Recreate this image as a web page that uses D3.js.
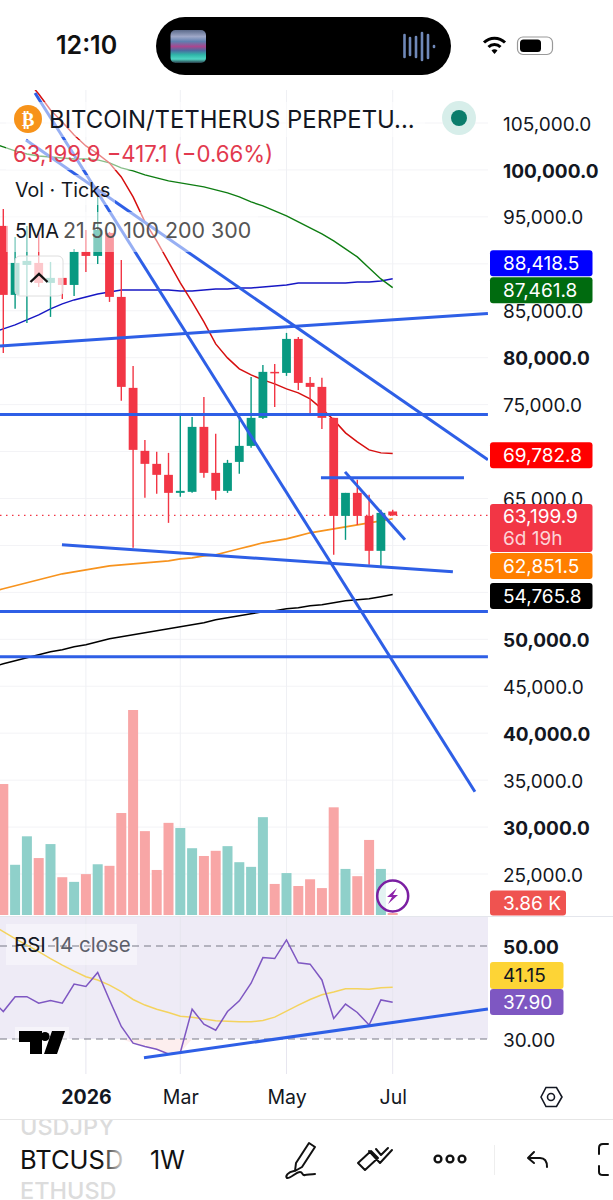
<!DOCTYPE html>
<html><head><meta charset="utf-8">
<script src="https://cdnjs.cloudflare.com/ajax/libs/d3/7.8.5/d3.min.js"></script>
<style>html,body{margin:0;padding:0;background:#fff}svg{display:block}text{font-family:Inter,"Noto Sans",sans-serif}</style>
</head><body><div id="c"></div>
<script>
// ---------- data ----------
const firstWeek = "2025-11-17";
const opens  = [94040,86690,89880,90095,87965,88500,87750,91270,90840,93290,86475,76785,70075,68690,67520,65600,65710,72630,67730,65815,68900,70605,73590,78490,78380,82000,77315,76890,73590,63150,65600,63150,59425,63617];
const highs  = [95850,92860,94040,93290,90200,88500,91590,93610,97125,93400,90415,79125,71245,69970,69860,73800,73695,75825,71885,69115,73695,77955,79230,79340,82640,82215,77955,77850,73590,65600,66985,65390,63790,63790];
const lows   = [80510,85200,83705,87540,84345,86260,86580,89140,89990,85940,75400,59745,65070,65495,62405,65175,65600,67200,64855,65600,67625,70395,73480,74760,78060,76570,74120,72415,59000,60595,62190,57935,57825,63150];
const closes = [86690,90095,90310,87965,88500,87750,91270,90840,93610,86475,76890,70180,68690,67520,65600,65815,72630,67730,65815,68795,70605,73590,78490,78380,82000,77315,76890,73590,63150,65600,63150,59425,63470,63199.9];
const volumesK = [253,97,152,110,137,73,64,79,98,95,197,396,162,87,178,168,129,114,124,133,102,93,189,60,81,56,69,52,208,89,75,145,89,3.86];
// moving averages start one week before the first visible candle
const ma21  = [null,null,null,109585,108094,106390,105112,103728,102556,101704,100746,99255,97125,94462,92439,90202,87965,85942,83812,81469,79978,78807,78168,77635,77209,76677,76251,75612,74547,73375,71991,71032,70180,69860,69782.8];
const ma50  = [102875,102450,102024,101704,101491,101385,101278,101172,101172,101065,100746,100213,99894,99468,99148,98829,98616,98403,98190,97870,97551,97125,96592,96166,95634,95101,94462,93823,93184,92439,91587,90735,89563,88392,87461.8];
const ma100 = [82640,83067,83493,84025,84558,85197,85729,86155,86475,86794,87007,87220,87220,87220,87220,87220,87114,87114,87220,87327,87327,87433,87433,87540,87646,87753,87965,87965,87965,87965,87965,88072,88072,88179,88418.5];
const ma200 = [55060,55377,55696,56016,56335,56655,56974,57187,57400,57613,57826,57933,58039,58146,58252,58359,58572,58678,58891,58998,59317,59637,59956,60276,60489,60702,61021,61341,61554,61767,61980,62193,62407,62620,62851.5];
const ma300 = [47070,47389,47709,48028,48348,48667,48880,49200,49413,49732,50052,50266,50479,50692,50905,51118,51331,51544,51757,52075,52288,52501,52714,52927,53034,53247,53353,53566,53673,53887,54100,54205,54312,54525,54765.8];
const rsi   = [38.4,35.9,39.1,39.1,37.7,38.3,37.7,41.8,41.3,44.3,38.4,32.7,29.1,28.4,27.8,26.8,27.1,36.4,33.2,31.9,35.9,38.2,42.0,47.5,47.3,51.3,46.4,46.1,42.7,34.4,37.5,35.7,33.0,38.4,37.9];
const rsiMa = [54.6,53.1,51.6,50.2,48.8,47.3,45.9,44.6,43.4,42.7,41.6,40.2,38.5,37.3,36.4,35.7,34.9,34.7,34.3,33.9,33.8,33.7,33.7,34.0,34.7,36.0,37.3,38.5,39.5,40.1,40.8,40.8,40.7,41.0,41.15];
// hand-drawn trend lines: [week number, price] pairs
const priceTrends = [
  [[2.69,108200],[39.97,33757]],
  [[1.92,103195],[41.07,69115]],
  [[-0.28,81256],[41.07,84717]],
  [[-0.28,73960],[41.07,73960]],
  [[26.92,67198],[39.04,67198]],
  [[28.96,67837],[34.04,60595]],
  [[4.97,60063],[38.1,57187]],
  [[-0.28,52959],[41.07,52959]],
  [[-0.28,48134],[41.07,48134]]
];
const rsiTrend = [[11.92,25.98],[41.07,36.45]];
const gridPrices = d3.range(25000,105001,5000);
const priceLabels = [25000,30000,35000,40000,45000,50000,65000,75000,80000,85000,95000,100000,105000];
const boldPrices = [100000,80000,50000,40000,30000];
const rsiTicks = [50,30];
const timeTicks = ["2026-01-05","2026-03-02","2026-05-04","2026-07-06"];
const timeLabels = {"2026-01-05":"2026","2026-03-02":"Mar","2026-05-04":"May","2026-07-06":"Jul"};
// tag text and the axis price at which the (collision-shifted) tag sits
const priceTags = [
  {t:"88,418.5",bg:"#0000ff",at:90069},
  {t:"87,461.8",bg:"#006b0f",at:87190},
  {t:"69,782.8",bg:"#ff0000",at:69620},
  {t:"62,851.5",bg:"#ff7f00",at:57800},
  {t:"54,765.8",bg:"#000000",at:54606}
];

// ---------- layout ----------
const W=613,H=1200,paneR=488;
const svg=d3.select("#c").append("svg").attr("width",W).attr("height",H);
const defs=svg.append("defs");
defs.append("clipPath").attr("id","main").append("rect").attr("x",0).attr("y",90).attr("width",paneR).attr("height",825);
const x0=new Date(firstWeek+"T00:00:00Z");
const weekDate=i=>new Date(+x0+i*7*864e5);
const x=d3.scaleUtc().domain([x0,weekDate(33)]).range([3.3,392.7]);
const xi=i=>x(weekDate(i));
const y=d3.scaleLinear().domain([25000,105000]).range([874,123]);
const yv=d3.scaleLinear().domain([0,396]).range([915,710]);
const yr=d3.scaleLinear().domain([30,50]).range([1039,946]);
const RED="#f23645",GREEN="#089981",TREND="#2e5fe6";

// grid
const gridG=svg.append("g");
gridG.selectAll("line.h").data(gridPrices).join("line").attr("x1",0).attr("x2",paneR)
  .attr("y1",d=>y(d)).attr("y2",d=>y(d)).attr("stroke","#f3f3f6").attr("stroke-width",1);
timeTicks.forEach(t=>{const px=x(new Date(t+"T00:00:00Z"));
  gridG.append("line").attr("x1",px).attr("x2",px).attr("y1",90).attr("y2",915).attr("stroke","#eff0f4");
});

// main pane
const main=svg.append("g").attr("clip-path","url(#main)");
// volume
main.selectAll("rect.v").data(volumesK).join("rect").attr("class","v")
  .attr("x",(d,i)=>xi(i)-5).attr("width",10).attr("y",d=>yv(d)).attr("height",d=>yv(0)-yv(d))
  .attr("fill",(d,i)=>closes[i]>=opens[i]?"#8fd0ca":"#f8a6a6");
// dotted price line
main.append("line").attr("x1",0).attr("x2",paneR).attr("y1",y(63199.9)).attr("y2",y(63199.9))
  .attr("stroke",RED).attr("stroke-width",1.4).attr("stroke-dasharray","1.5 4.5");
// moving averages
const line=d3.line().defined(d=>d!=null).x((d,i)=>xi(i-1)).y(d=>y(d));
[[ma300,"#000000",1.5],[ma200,"#f7931e",1.6],[ma100,"#1717c4",1.5],[ma50,"#0e7d12",1.4],[ma21,"#d60f0f",1.5]].forEach(([a,c,w])=>{
  main.append("path").attr("d",line(a)).attr("fill","none").attr("stroke",c).attr("stroke-width",w);
});
// candles
const cg=main.selectAll("g.c").data(d3.range(opens.length)).join("g");
cg.append("line").attr("x1",xi).attr("x2",xi).attr("y1",i=>y(highs[i])).attr("y2",i=>y(lows[i]))
  .attr("stroke",i=>closes[i]>=opens[i]?GREEN:RED).attr("stroke-width",1.4);
cg.append("rect").attr("x",i=>xi(i)-4.4).attr("width",8.8)
  .attr("y",i=>y(Math.max(opens[i],closes[i])))
  .attr("height",i=>Math.max(1.5,Math.abs(y(opens[i])-y(closes[i]))))
  .attr("fill",i=>closes[i]>=opens[i]?GREEN:RED);
// trend lines
const tl=d3.line().x(d=>xi(d[0])).y(d=>y(d[1]));
main.selectAll("path.t").data(priceTrends).join("path").attr("d",tl).attr("fill","none")
  .attr("stroke",TREND).attr("stroke-width",3);

// legend veils
[[6,102,419,35],[6,140,272,30],[6,175,109,30],[6,212,252,40]].forEach(r=>{
  svg.append("rect").attr("x",r[0]).attr("y",r[1]).attr("width",r[2]).attr("height",r[3]).attr("fill","#fff").attr("opacity",.5);
});
// collapse button
svg.append("rect").attr("x",15).attr("y",256).attr("width",48).attr("height",40).attr("rx",5)
  .attr("fill","#fff").attr("fill-opacity",.72).attr("stroke","#dedede").attr("stroke-width",1);
svg.append("path").attr("d","M30.5 282 L39 274 L47.5 282").attr("fill","none").attr("stroke","#111").attr("stroke-width",2.4);

// legend text
svg.append("circle").attr("cx",28).attr("cy",119).attr("r",14).attr("fill","#f7931a");
svg.append("text").attr("x",28).attr("y",126).attr("text-anchor","middle").attr("fill","#fff").attr("font-size",19).attr("font-weight",700).attr("style","font-family:'DejaVu Sans'").text("₿");
svg.append("text").attr("x",49).attr("y",128).attr("font-size",23.9).attr("fill","#131722").text("BITCOIN/TETHERUS PERPETU...");
svg.append("circle").attr("cx",459).attr("cy",118).attr("r",17).attr("fill","#d7eeea");
svg.append("circle").attr("cx",459).attr("cy",118).attr("r",8).attr("fill","#0b7d6c");
svg.append("text").attr("x",13).attr("y",162).attr("font-size",22.2).attr("fill","#e2394e").text("63,199.9 −417.1 (−0.66%)");
svg.append("text").attr("x",15).attr("y",197).attr("font-size",19.6).attr("fill","#131722").text("Vol · Ticks");
svg.append("text").attr("x",15).attr("y",238).attr("font-size",20).attr("fill","#131722").text("5MA");
svg.append("text").attr("x",63).attr("y",238).attr("font-size",21.4).attr("fill","#555").text("21 50 100 200 300");

// volume zap
svg.append("circle").attr("cx",392.7).attr("cy",896).attr("r",15.5).attr("fill","#fff").attr("fill-opacity",.75).attr("stroke","#7b1fa2").attr("stroke-width",2.5);
svg.append("path").attr("d","M397 888 L387 897 L392 897 L388 904 L398 895 L393 895 Z").attr("fill","#8e24aa");

// panes separators
svg.append("line").attr("x1",0).attr("x2",W).attr("y1",916.5).attr("y2",916.5).attr("stroke","#e4e6ec");

// RSI pane
svg.append("rect").attr("x",0).attr("y",917).attr("width",paneR).attr("height",yr(30)-917).attr("fill","#eeebf6");
timeTicks.forEach(t=>{const px=x(new Date(t+"T00:00:00Z"));
  svg.append("line").attr("x1",px).attr("x2",px).attr("y1",917).attr("y2",1074).attr("stroke","#e7e6ef");
});
const rsiLow=d3.area().x((d,i)=>xi(i-1)).y0(yr(30)).y1(d=>yr(Math.min(d,30)));
svg.append("path").attr("d",rsiLow(rsi)).attr("fill","#fdeeee");
svg.append("rect").attr("x",6).attr("y",924).attr("width",131).attr("height",41).attr("fill","#fff").attr("opacity",.42);
rsiTicks.forEach(v=>{
  svg.append("line").attr("x1",0).attr("x2",paneR).attr("y1",yr(v)).attr("y2",yr(v)).attr("stroke","#787b86").attr("stroke-width",1.2).attr("stroke-dasharray","7 5");
});
const rl=d3.line().x((d,i)=>xi(i-1)).y(d=>yr(d));
svg.append("path").attr("d",rl(rsiMa)).attr("fill","none").attr("stroke","#f4d35e").attr("stroke-width",1.5);
svg.append("path").attr("d",rl(rsi)).attr("fill","none").attr("stroke","#7e57c2").attr("stroke-width",1.5);
// logo
const logo=svg.append("g");
logo.append("rect").attr("x",15).attr("y",1027).attr("width",54).attr("height",31).attr("fill","#fff").attr("opacity",.45);
logo.append("path").attr("d","M19 1031H42V1054H30V1042H19Z M65 1031L57 1054H44L52 1031Z");
logo.append("circle").attr("cx",45).attr("cy",1036.5).attr("r",4.6);
svg.append("path").attr("d",d3.line().x(d=>xi(d[0])).y(d=>yr(d[1]))(rsiTrend)).attr("fill","none").attr("stroke",TREND).attr("stroke-width",3);
const rsiLabel=svg.append("text").attr("x",14).attr("y",952).attr("font-size",20.5);
rsiLabel.append("tspan").attr("fill","#131722").text("RSI ");
rsiLabel.append("tspan").attr("fill","#5d606b").text("14 close");

// price axis
const AX=19;
const axisY=svg.append("g").attr("transform","translate(503,1)").call(d3.axisRight(y).tickValues(priceLabels).tickSize(0).tickPadding(0).tickFormat(d3.format(",.1f")));
axisY.select(".domain").remove();
axisY.selectAll("text").attr("font-size",AX).attr("fill","#131722").attr("font-weight",d=>boldPrices.includes(d)?700:400).style("font-family","Inter,sans-serif");

// RSI axis
const axisR=svg.append("g").attr("transform","translate(503,1)").call(d3.axisRight(yr).tickValues(rsiTicks).tickSize(0).tickPadding(0).tickFormat(d3.format(".2f")));
axisR.select(".domain").remove();
axisR.selectAll("text").attr("font-size",AX).attr("fill","#131722").attr("font-weight",d=>d===50?700:400).style("font-family","Inter,sans-serif");

// tags
function tag(x0_,yc,h,w,bg,txt){
  svg.append("rect").attr("x",x0_).attr("y",yc-h/2).attr("width",w).attr("height",h).attr("rx",3).attr("fill",bg);
  return svg.append("text").attr("x",x0_+13).attr("y",yc).attr("dy","0.35em").attr("font-size",AX).attr("fill","#fff").text(txt);
}
svg.append("rect").attr("x",490).attr("y",504).attr("width",102.5).attr("height",48).attr("rx",3).attr("fill",RED);
svg.append("text").attr("x",503).attr("y",516).attr("dy","0.35em").attr("font-size",AX).attr("fill","#fff").text("63,199.9");
svg.append("text").attr("x",503).attr("y",538).attr("dy","0.35em").attr("font-size",AX).attr("fill","#fff").attr("fill-opacity",.8).text("6d 19h");
priceTags.forEach(d=>tag(490,y(d.at),26,102.5,d.bg,d.t));
tag(490,903,25,76,"#ef5350","3.86 K");
tag(490,975.5,27,73.5,"#fdd436","41.15").attr("fill","#131722");
tag(490,1002,26,73.5,"#7e57c2","37.90");

// time axis
const parsed=timeTicks.map(t=>new Date(t+"T00:00:00Z"));
const axisX=svg.append("g").attr("transform","translate(0,1090)").call(d3.axisBottom(x).tickValues(parsed).tickSize(0).tickPadding(0).tickFormat(d=>timeLabels[d.toISOString().slice(0,10)]));
axisX.select(".domain").remove();
axisX.selectAll("text").attr("font-size",19.5).attr("fill","#131722").attr("font-weight",d=>d.getUTCMonth()===0?700:400).style("font-family","Inter,sans-serif");
// settings hex
svg.append("path").attr("d","M541 1097L546 1087.5H556.5L562 1097L556.5 1106.5H546Z").attr("fill","none").attr("stroke","#131722").attr("stroke-width",1.6);
svg.append("circle").attr("cx",551).attr("cy",1097).attr("r",3.5).attr("fill","none").attr("stroke","#131722").attr("stroke-width",1.6);
svg.append("line").attr("x1",0).attr("x2",W).attr("y1",1119.5).attr("y2",1119.5).attr("stroke","#e6e6e6");

// bottom bar
const fade=defs.append("linearGradient").attr("id","fade");
fade.append("stop").attr("offset","0").attr("stop-color","#111");
fade.append("stop").attr("offset",".78").attr("stop-color","#111");
fade.append("stop").attr("offset","1").attr("stop-color","#d8d8d8");
defs.append("clipPath").attr("id","bot").append("rect").attr("x",0).attr("y",1120).attr("width",W).attr("height",80);
const bot=svg.append("g").attr("clip-path","url(#bot)");
bot.append("text").attr("x",20).attr("y",1135).attr("font-size",23.5).attr("fill","#dcdcdc").attr("font-weight",500).text("USDJPY");
bot.append("text").attr("x",20).attr("y",1169).attr("font-size",25.5).attr("fill","url(#fade)").text("BTCUSD");
bot.append("text").attr("x",20).attr("y",1199).attr("font-size",23.5).attr("fill","#dcdcdc").attr("font-weight",500).text("ETHUSD");
svg.append("text").attr("x",150).attr("y",1169).attr("font-size",25).attr("fill","#111").text("1W");
const ic=svg.append("g").attr("fill","none").attr("stroke","#111").attr("stroke-width",2).attr("stroke-linecap","round").attr("stroke-linejoin","round");
ic.append("path").attr("d","M309 1143L315 1147L302 1167L295 1171L296 1163Z");
ic.append("path").attr("d","M294 1171C288 1172 285 1176 287 1178C290 1179 296 1172 300 1172C303 1172 302 1176 305 1175C307 1175 312 1174 315 1174");
ic.append("path").attr("d","M358 1163L371 1151L378 1158L365 1170L358 1163Z M369 1151L380 1163L392 1150M376 1149L381 1155L388 1148");
ic.selectAll("circle.d").data([438,450,462]).join("circle").attr("cx",d=>d).attr("cy",1159).attr("r",3.4).attr("stroke-width",2.4);
svg.append("line").attr("x1",494.5).attr("x2",494.5).attr("y1",1145).attr("y2",1175).attr("stroke","#eee");
ic.append("path").attr("d","M534 1152L528 1158L534 1163M528 1158H540C545 1158 547 1162 547 1167");
ic.append("path").attr("d","M608 1144H603C600 1144 599 1146 599 1148V1154M599 1166V1172C599 1174 600 1175 603 1175H608");

// status bar
svg.append("text").attr("x",56).attr("y",54).attr("font-size",25).attr("font-weight",600).attr("fill","#111").text("12:10");
svg.append("rect").attr("x",156).attr("y",17).attr("width",295).attr("height",58).attr("rx",29).attr("fill","#000");
const art=defs.append("linearGradient").attr("id","art").attr("x1",0).attr("x2",0).attr("y1",0).attr("y2",1);
[[0,"#5b6a8a"],[.2,"#9fa8c8"],[.35,"#5f7fb0"],[.5,"#a8478f"],[.62,"#4c6aa0"],[.75,"#2fb5a8"],[.88,"#4fd6c4"],[1,"#2a3a48"]].forEach(s=>art.append("stop").attr("offset",s[0]).attr("stop-color",s[1]));
svg.append("rect").attr("x",170.5).attr("y",30).attr("width",35.5).attr("height",33).attr("rx",5).attr("fill","url(#art)");
svg.selectAll("line.w").data([[404.5,35,57],[410,38,55],[416,37,57],[422,33,60],[428,35,58],[434,46,47]]).join("line")
  .attr("x1",d=>d[0]).attr("x2",d=>d[0]).attr("y1",d=>d[1]).attr("y2",d=>d[2]).attr("stroke","#6f88b8").attr("stroke-width",2.6).attr("stroke-linecap","round");
const wf=svg.append("g").attr("fill","none").attr("stroke","#000").attr("stroke-width",3);
wf.append("path").attr("d","M484 42.5A15 15 0 0 1 505 42.5");
wf.append("path").attr("d","M488.5 47A8.5 8.5 0 0 1 500.5 47");
svg.append("path").attr("d","M491.5 50.5L494.5 54L497.5 50.5A4 4 0 0 0 491.5 50.5Z").attr("fill","#000");
svg.append("rect").attr("x",517.5).attr("y",37).attr("width",35).attr("height",17.5).attr("rx",5.5).attr("fill","none").attr("stroke","#999").attr("stroke-width",1.2);
svg.append("rect").attr("x",520).attr("y",39.5).attr("width",21).attr("height",12.5).attr("rx",3.5).attr("fill","#000");
</script></body></html>
